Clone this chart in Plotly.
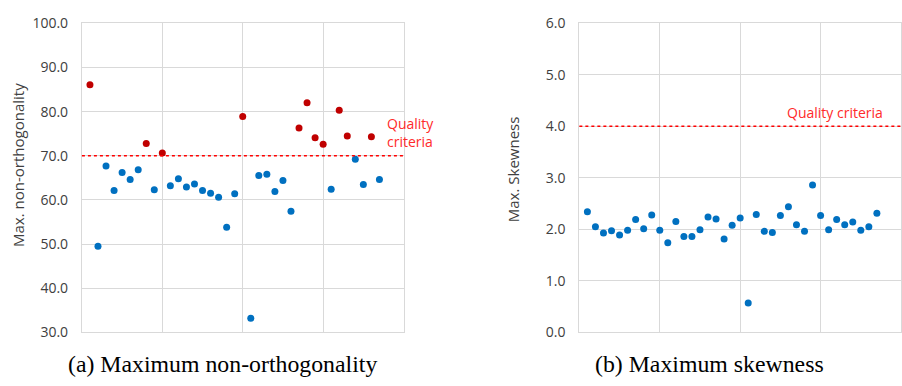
import plotly.graph_objects as go

# ---------------- data ----------------
case_index = list(range(1, 38))

non_orthogonality = [
    86.1, 49.5, 67.7, 62.1, 66.2, 64.6, 66.8, 72.8, 62.3, 70.6,
    63.2, 64.8, 62.9, 63.6, 62.1, 61.5, 60.6, 53.8, 61.4, 78.9,
    33.2, 65.5, 65.8, 61.9, 64.4, 57.4, 76.3, 82.0, 74.1, 72.6,
    62.4, 80.3, 74.5, 69.2, 63.5, 74.3, 64.6,
]

skewness = [
    2.34, 2.05, 1.93, 1.97, 1.89, 1.98, 2.19, 2.01, 2.28, 1.98,
    1.74, 2.15, 1.86, 1.86, 1.99, 2.24, 2.20, 1.81, 2.08, 2.22,
    0.57, 2.29, 1.96, 1.94, 2.27, 2.44, 2.09, 1.96, 2.86, 2.27,
    1.99, 2.19, 2.09, 2.14, 1.98, 2.05, 2.31,
]

ortho_criterion = 70.0
skew_criterion = 4.0

ortho_ticks = [30, 40, 50, 60, 70, 80, 90, 100]
skew_ticks = [0, 1, 2, 3, 4, 5, 6]

caption_a = "(a) Maximum non-orthogonality"
caption_b = "(b) Maximum skewness"
title_a = "Max. non-orthogonality"
title_b = "Max. Skewness"
criteria_label = "Quality criteria"

# ---------------- styles ----------------
BLUE = "#0070C0"
RED = "#C00000"
LINE_RED = "#FF0000"
LABEL_RED = "#FF2A2A"
GRID = "#D9D9D9"
TICK_FONT = dict(family="Open Sans, Noto Sans, sans-serif", size=14, color="#404040")
W, H = 902, 386

fig = go.Figure()

above_x = [i for i, v in zip(case_index, non_orthogonality) if v > ortho_criterion]
above_y = [v for v in non_orthogonality if v > ortho_criterion]
below_x = [i for i, v in zip(case_index, non_orthogonality) if v <= ortho_criterion]
below_y = [v for v in non_orthogonality if v <= ortho_criterion]

fig.add_trace(go.Scatter(x=below_x, y=below_y, mode="markers",
                         marker=dict(color=BLUE, size=7), xaxis="x", yaxis="y",
                         showlegend=False))
fig.add_trace(go.Scatter(x=above_x, y=above_y, mode="markers",
                         marker=dict(color=RED, size=7), xaxis="x", yaxis="y",
                         showlegend=False))
fig.add_trace(go.Scatter(x=case_index, y=skewness, mode="markers",
                         marker=dict(color=BLUE, size=7), xaxis="x2", yaxis="y2",
                         showlegend=False))

ydom = [(386 - 339) / H, (386 - 14) / H]

common_x = dict(range=[0, 40], dtick=10, tick0=0, showticklabels=False,
                showgrid=True, gridcolor=GRID, gridwidth=1, zeroline=False,
                showline=True, linecolor=GRID, linewidth=1, mirror=True, ticks="")
common_y = dict(showgrid=True, gridcolor=GRID, gridwidth=1, zeroline=False,
                showline=True, linecolor=GRID, linewidth=1, mirror=True,
                tickformat=".1f", tickfont=TICK_FONT, ticks="", ticklabelstandoff=10)

fig.update_layout(
    width=W, height=H,
    margin=dict(l=0, r=0, t=0, b=0),
    paper_bgcolor="white", plot_bgcolor="white",
    xaxis=dict(domain=[82 / W, 404 / W], anchor="y", **common_x),
    yaxis=dict(domain=ydom, anchor="x", range=[30, 100], tickvals=ortho_ticks, **common_y),
    xaxis2=dict(domain=[580 / W, 902 / W], anchor="y2", **common_x),
    yaxis2=dict(domain=ydom, anchor="x2", range=[0, 6], tickvals=skew_ticks, **common_y),
)

# quality criteria lines
fig.add_shape(type="line", xref="x domain", yref="y", x0=0, x1=1,
              y0=ortho_criterion, y1=ortho_criterion,
              line=dict(color=LINE_RED, width=1.5, dash="dot"))
fig.add_shape(type="line", xref="x2 domain", yref="y2", x0=0, x1=1,
              y0=skew_criterion, y1=skew_criterion,
              line=dict(color=LINE_RED, width=1.5, dash="dot"))

label_font = dict(family="Open Sans, Noto Sans, sans-serif", size=14, color=LABEL_RED)
fig.add_annotation(text="Quality<br>criteria", xref="paper", yref="paper",
                   x=385 / W, y=(386 - 129) / H, xanchor="left", yanchor="middle",
                   showarrow=False, align="left", font=label_font)
fig.add_annotation(text=criteria_label, xref="paper", yref="paper",
                   x=786 / W, y=(386 - 108) / H, xanchor="left", yanchor="middle",
                   showarrow=False, font=label_font)

# axis titles
title_font = dict(family="Open Sans, Noto Sans, sans-serif", size=15, color="#404040")
fig.add_annotation(text=title_a, xref="paper", yref="paper", x=18 / W, y=(386 - 163) / H,
                   xanchor="center", yanchor="middle", textangle=-90,
                   showarrow=False, font=title_font)
fig.add_annotation(text=title_b, xref="paper", yref="paper", x=513 / W, y=(386 - 167) / H,
                   xanchor="center", yanchor="middle", textangle=-90,
                   showarrow=False, font=title_font)

# captions
cap_font = dict(family="Liberation Serif, Times New Roman, serif", size=23.8, color="black")
fig.add_annotation(text=caption_a, xref="paper", yref="paper", x=222.5 / W, y=(386 - 372) / H,
                   xanchor="center", yanchor="middle", showarrow=False, font=cap_font)
fig.add_annotation(text=caption_b, xref="paper", yref="paper", x=710 / W, y=(386 - 372) / H,
                   xanchor="center", yanchor="middle", showarrow=False, font=cap_font)

fig.write_html("out.html")
